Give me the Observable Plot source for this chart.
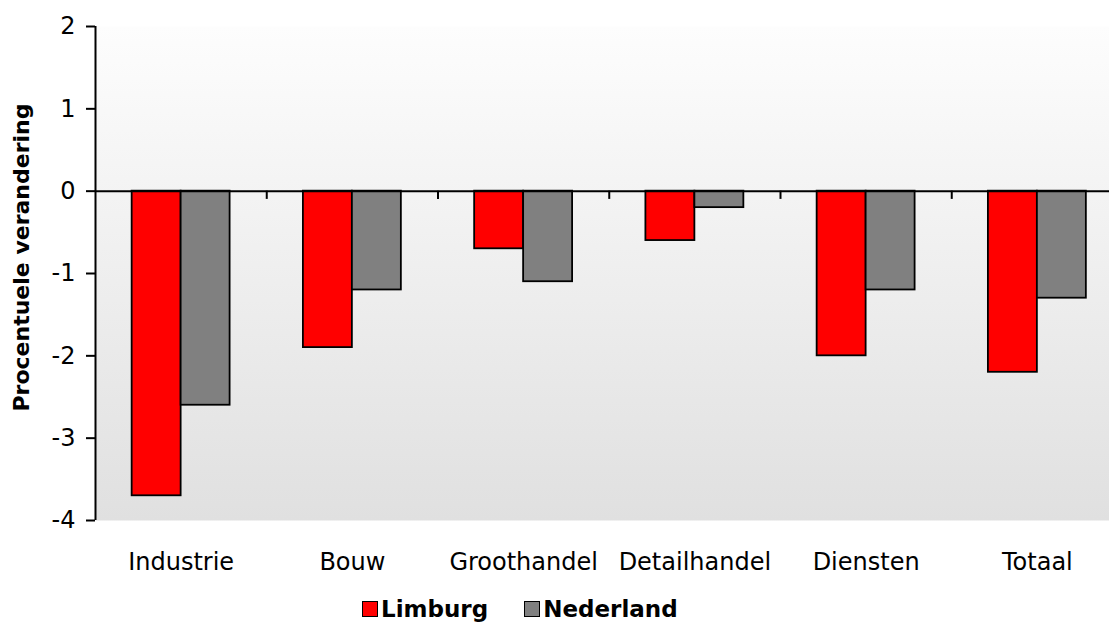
<!DOCTYPE html>
<html>
<head>
<meta charset="utf-8">
<script src="https://cdn.jsdelivr.net/npm/d3@7"></script>
<script src="https://cdn.jsdelivr.net/npm/@observablehq/plot@0.6"></script>
<style>
  html, body { margin: 0; padding: 0; background: #fff; }
  body { width: 1109px; height: 627px; overflow: hidden; font-family: "DejaVu Sans", sans-serif; }
  #chart { position: relative; }
  #legend { position: absolute; top: 596px; left: 362px; display: flex; align-items: center; font-weight: bold; font-size: 23px; color: #000; }
  .item { display: flex; align-items: center; margin-right: 36px; }
  .sw { width: 14px; height: 14px; border: 1.5px solid #000; margin-right: 3px; }
</style>
</head>
<body>
<div id="chart"></div>
<div id="legend"></div>
<script>
const categories = ["Industrie", "Bouw", "Groothandel", "Detailhandel", "Diensten", "Totaal"];
const seriesNames = ["Limburg", "Nederland"];
const limburg = [-3.7, -1.9, -0.7, -0.6, -2.0, -2.2];
const nederland = [-2.6, -1.2, -1.1, -0.2, -1.2, -1.3];
const colors = ["#ff0000", "#808080"];
const yTicks = [-4, -3, -2, -1, 0, 1, 2];

const rows = [];
categories.forEach((c, i) => {
  rows.push({i, category: c, series: seriesNames[0], value: limburg[i]});
  rows.push({i, category: c, series: seriesNames[1], value: nederland[i]});
});

// group layout within each category band (fractions of the band)
const groupStart = 0.214, groupEnd = 0.786, mid = 0.5;

const plot = Plot.plot({
  width: 1109,
  height: 580,
  marginLeft: 95,
  marginRight: 0,
  marginTop: 26,
  marginBottom: 60,
  style: {fontFamily: "DejaVu Sans, sans-serif", fontSize: "24px", color: "#000", background: "transparent"},
  x: {domain: [0, categories.length], range: [95, 95 + 171.25 * categories.length]},
  y: {domain: [-4, 2]},
  color: {domain: seriesNames, range: colors},
  marks: [
    Plot.frame({fill: "url(#bgGrad)", stroke: "none"}),
    Plot.rectY(rows, {
      x1: d => d.i + (d.series === seriesNames[0] ? groupStart : mid),
      x2: d => d.i + (d.series === seriesNames[0] ? mid : groupEnd),
      y: "value",
      fill: "series",
      stroke: "#000",
      strokeWidth: 1.8
    }),
    Plot.ruleY([0], {stroke: "#000", strokeWidth: 2}),
    Plot.ruleX(d3.range(1, categories.length), {y1: 0, y2: -0.1, stroke: "#000", strokeWidth: 2}),
    Plot.ruleX([0], {stroke: "#000", strokeWidth: 2}),
    Plot.axisY({ticks: yTicks, tickFormat: d => String(d), tickSize: 9, tickPadding: 11, strokeWidth: 2, fontSize: 24, label: null}),
    Plot.text(["Procentuele verandering"], {frameAnchor: "left", textAnchor: "middle", dx: -74, rotate: -90, dy: -16, fontWeight: "bold", fontSize: 22}),
    Plot.axisX({ticks: categories.map((c, i) => i + 0.5), tickFormat: d => categories[Math.floor(d)], tickSize: 0, tickPadding: 32, fontSize: 24, label: null})
  ]
});

const svg = plot;
const ns = "http://www.w3.org/2000/svg";
const defs = document.createElementNS(ns, "defs");
defs.innerHTML = '<linearGradient id="bgGrad" x1="0" y1="0" x2="0" y2="1"><stop offset="0" stop-color="#fdfdfd"/><stop offset="1" stop-color="#e0e0e0"/></linearGradient>';
svg.insertBefore(defs, svg.firstChild);
document.getElementById("chart").appendChild(svg);

const legend = document.getElementById("legend");
seriesNames.forEach((s, k) => {
  const item = document.createElement("div");
  item.className = "item";
  const sw = document.createElement("div");
  sw.className = "sw";
  sw.style.background = colors[k];
  const t = document.createElement("span");
  t.textContent = s;
  item.appendChild(sw);
  item.appendChild(t);
  legend.appendChild(item);
});
</script>
</body>
</html>
